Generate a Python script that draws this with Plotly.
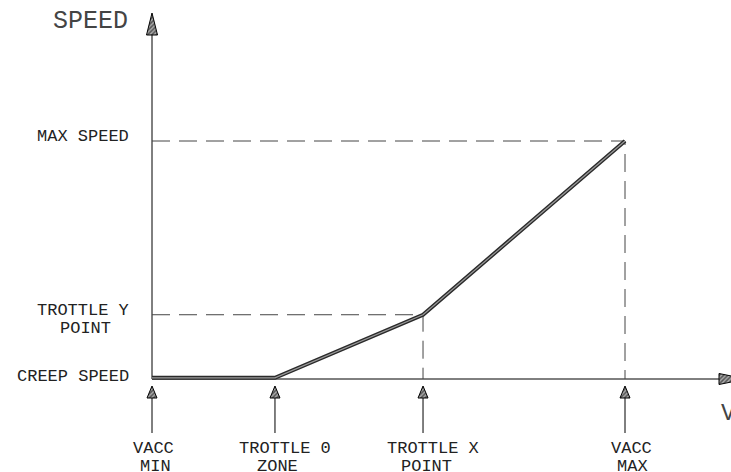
import plotly.graph_objects as go

# ---------------- data ----------------
vacc_labels_top = ["VACC", "TROTTLE 0", "TROTTLE X", "VACC"]
vacc_labels_bottom = ["MIN", "ZONE", "POINT", "MAX"]
vacc_points = [0, 26, 57.3, 100]          # accelerator positions (x)
speed_points = [0.5, 0.5, 27, 100]        # speed curve (y)
speed_labels = ["CREEP SPEED", "TROTTLE Y", "MAX SPEED"]
axis_titles = ["SPEED", "V"]

# ---------------- geometry helpers (pixel <-> data) ----------------
W, H = 731, 472
XS, X0PX = 4.73, 152      # px per x-unit, pixel of x=0
YS, Y0PX = 2.38, 379      # px per y-unit, pixel of y=0


def X(px):
    return (px - X0PX) / XS


def Y(px):
    return (Y0PX - px) / YS


FONT = "Liberation Mono"
TXT = "#222"

fig = go.Figure()

# axes lines
fig.add_trace(go.Scatter(x=[0, X(720)], y=[0, 0], mode="lines",
                         line=dict(color="#000", width=1), hoverinfo="skip"))
fig.add_trace(go.Scatter(x=[0, 0], y=[0, Y(32)], mode="lines",
                         line=dict(color="#000", width=1), hoverinfo="skip"))

# dashed guide lines
for i in (2, 3):
    fig.add_trace(go.Scatter(
        x=[0, vacc_points[i], vacc_points[i]],
        y=[speed_points[i], speed_points[i], 0],
        mode="lines", line=dict(color="#444", width=1, dash="18px,9px"),
        hoverinfo="skip"))

# speed curve (double thick line)
fig.add_trace(go.Scatter(x=vacc_points, y=speed_points, mode="lines",
                         line=dict(color="#2a2a2a", width=4), hoverinfo="skip"))
fig.add_trace(go.Scatter(x=vacc_points, y=speed_points, mode="lines",
                         line=dict(color="#9a9a9a", width=1.2), hoverinfo="skip"))

# pointer shafts under the axis
sx, sy = [], []
for v in vacc_points:
    sx += [v, v, None]
    sy += [Y(397), Y(433), None]
fig.add_trace(go.Scatter(x=sx, y=sy, mode="lines",
                         line=dict(color="#000", width=1), hoverinfo="skip"))

# arrowheads (hatched)
hx, hy = [], []
hw = 5 / XS
for v in vacc_points:
    hx += [v, v - hw, v + hw, v, None]
    hy += [Y(386), Y(398), Y(398), Y(386), None]
# y-axis head
hw2 = 5.5 / XS
hx += [0, -hw2, hw2, 0, None]
hy += [Y(13), Y(35), Y(35), Y(13), None]
# x-axis head
hh = 5.5 / YS
hx += [X(719), X(746), X(719), X(719), None]
hy += [hh, 0, -hh, hh, None]
fig.add_trace(go.Scatter(
    x=hx, y=hy, mode="lines", fill="toself",
    fillcolor="#666",
    fillpattern=dict(shape="/", fgcolor="#000", bgcolor="#aaa", size=3, solidity=0.5),
    line=dict(color="#000", width=1), hoverinfo="skip"))

ann = []
# left labels
ann.append(dict(x=0, y=speed_points[3], text=speed_labels[2], xanchor="right",
                yanchor="middle", xshift=-21, yshift=5))
ann.append(dict(x=0, y=speed_points[2], text=speed_labels[1], xanchor="right",
                yanchor="middle", xshift=-21, yshift=4))
ann.append(dict(x=X(85), y=speed_points[2], text="POINT", xanchor="center",
                yanchor="middle", yshift=-14))
ann.append(dict(x=0, y=speed_points[0], text=speed_labels[0], xanchor="right",
                yanchor="middle", xshift=-21, yshift=1))

# bottom labels
shifts = [1, 10, 10, 6]
shifts2 = [3, 3, 3, 7]
for v, t1, t2, s1, s2 in zip(vacc_points, vacc_labels_top, vacc_labels_bottom, shifts, shifts2):
    ann.append(dict(x=v, y=0, text=t1, xanchor="center", yanchor="middle",
                    xshift=s1, yshift=-69))
    ann.append(dict(x=v, y=0, text=t2, xanchor="center", yanchor="middle",
                    xshift=s2, yshift=-87))

for a in ann:
    a.update(showarrow=False, font=dict(family=FONT, size=17, color=TXT))

# axis titles
ann.append(dict(x=0, y=Y(21), text=axis_titles[0], xanchor="right", yanchor="middle",
                xshift=-22, showarrow=False,
                font=dict(family=FONT, size=25, color="#444")))
ann.append(dict(x=X(719), y=0, text=axis_titles[1], xanchor="left", yanchor="middle",
                yshift=-34, showarrow=False,
                font=dict(family=FONT, size=24, color="#444")))

fig.update_layout(
    width=W, height=H,
    margin=dict(l=0, r=0, t=0, b=0),
    paper_bgcolor="white", plot_bgcolor="white",
    showlegend=False,
    xaxis=dict(range=[X(0), X(W)], visible=False, fixedrange=True),
    yaxis=dict(range=[Y(H), Y(0)], visible=False, fixedrange=True),
    annotations=ann,
)

fig.write_html("out.html", config={"displayModeBar": False},
               post_script="document.body.style.margin='0';document.body.style.overflow='hidden';")
